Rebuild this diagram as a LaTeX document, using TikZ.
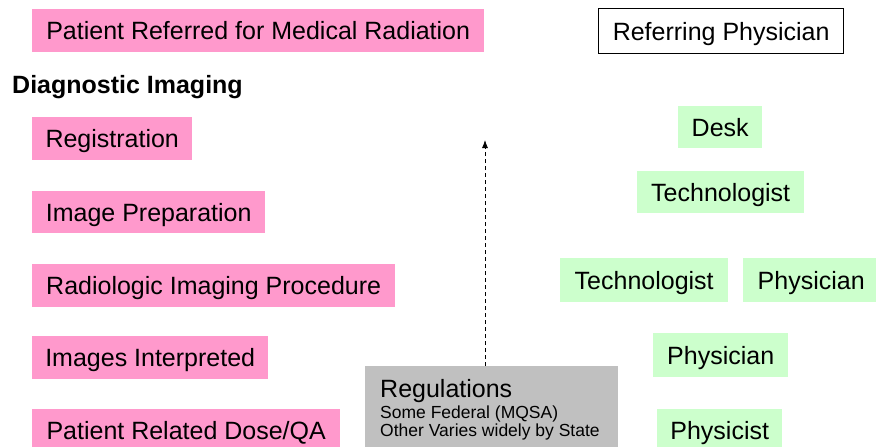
\documentclass[tikz,border=0pt]{standalone}
\usepackage{fontspec}
\setmainfont{Liberation Sans}
\usetikzlibrary{arrows.meta}
\definecolor{pinkc}{HTML}{FF99CC}
\definecolor{greenc}{HTML}{CCFFCC}
\definecolor{grayc}{HTML}{C0C0C0}
\begin{document}
\begin{tikzpicture}[x=1pt,y=-1pt,
  box/.style={anchor=north west, inner sep=0pt, text height=18pt, text depth=0pt, font=\fontsize{25}{30}\selectfont},
  pinkb/.style={box, fill=pinkc},
  greenb/.style={box, fill=greenc},
  refb/.style={box, fill=white, draw=black, line width=1.3pt},
  regbox/.style={anchor=north west, inner sep=0pt, fill=grayc},
  dasharrow/.style={dashed, dash pattern=on 4pt off 3pt, line width=0.8pt, -{Latex[length=8pt,width=6pt]}}]
\clip (0,0) rectangle (876,447);
\fill[white] (0,0) rectangle (876,447);
% left column
\node[pinkb, minimum width=452pt, minimum height=43pt] (p0) at (32,9) {Patient Referred for Medical Radiation};
\node[anchor=base west, inner sep=0pt, font=\fontsize{25}{30}\selectfont\bfseries] (di) at (12,93) {Diagnostic Imaging};
\node[pinkb, minimum width=160pt, minimum height=43pt] (p1) at (32,117) {Registration};
\node[pinkb, minimum width=233pt, minimum height=42pt] (p2) at (32,191) {Image Preparation};
\node[pinkb, minimum width=363pt, minimum height=43pt] (p3) at (32,264) {Radiologic Imaging Procedure};
\node[pinkb, minimum width=236pt, minimum height=43pt] (p4) at (32,336) {Images Interpreted};
\node[pinkb, minimum width=308pt, minimum height=43pt] (p5) at (32,409) {Patient Related Dose/QA};
% right column
\node[refb, minimum width=245pt, minimum height=45pt] (rp) at (598,8) {Referring Physician};
\node[greenb, minimum width=84pt, minimum height=42pt] (g1) at (678,106) {Desk};
\node[greenb, minimum width=167pt, minimum height=42pt] (g2) at (637,171) {Technologist};
\node[greenb, minimum width=168pt, minimum height=44pt] (g3) at (560,258) {Technologist};
\node[greenb, minimum width=136pt, minimum height=44pt] (g4) at (743,258) {Physician};
\node[greenb, minimum width=135pt, minimum height=44pt] (g5) at (653,333) {Physician};
\node[greenb, minimum width=125pt, minimum height=43pt] (g6) at (657,409) {Physicist};
% regulations
\node[regbox, minimum width=253pt, minimum height=90pt] (reg) at (365,366) {};
\node[anchor=base west, inner sep=0pt, font=\fontsize{25}{30}\selectfont] (regt) at (380,397) {Regulations};
\node[anchor=base west, inner sep=0pt, font=\fontsize{17.5}{19}\selectfont] (reg1) at (380,418) {Some Federal (MQSA)};
\node[anchor=base west, inner sep=0pt, font=\fontsize{17.5}{19}\selectfont] (reg2) at (380,436) {Other Varies widely by State};
\coordinate (atop) at (485,140);
\draw[dasharrow] (reg.north -| atop) -- (atop);
\end{tikzpicture}
\end{document}
